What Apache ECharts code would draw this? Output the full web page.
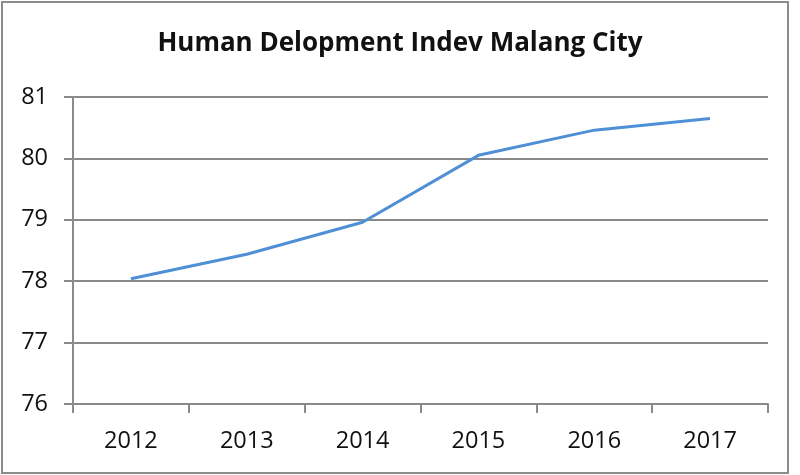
<!DOCTYPE html>
<html><head><meta charset="utf-8">
<script src="https://cdn.jsdelivr.net/npm/echarts@6/dist/echarts.min.js"></script>
<style>html,body{margin:0;padding:0;background:#fff}#c{width:800px;height:475px}</style>
</head><body><div id="c"></div>
<script>
var years = ['2012','2013','2014','2015','2016','2017'];
var hdi = [78.04, 78.44, 78.96, 80.05, 80.46, 80.65];
var yTicks = [76, 77, 78, 79, 80, 81];
var titleText = 'Human Delopment Indev Malang City';

var chart = echarts.init(document.getElementById('c'), null, {renderer:'canvas'});
chart.setOption({
  backgroundColor:'#fff',
  animation:false,
  graphic:[{type:'rect',shape:{x:2,y:2,width:786,height:471},style:{fill:'none',stroke:'#8c8c8c',lineWidth:2}}],
  title:{text:titleText,left:'center',top:26,textStyle:{fontFamily:'Open Sans',fontWeight:'bold',fontSize:26,color:'#111'}},
  grid:{left:73,right:32,top:97,bottom:71},
  xAxis:{type:'category',data:years,boundaryGap:true,
    axisLine:{lineStyle:{color:'#8a8a8a',width:2}},
    axisTick:{show:true,length:9,lineStyle:{color:'#8a8a8a',width:2}},
    axisLabel:{fontFamily:'Open Sans',fontSize:23.5,color:'#111',margin:25}},
  yAxis:{type:'value',min:yTicks[0],max:yTicks[yTicks.length-1],interval:1,
    axisLine:{show:true,lineStyle:{color:'#8a8a8a',width:2}},
    axisTick:{show:true,length:9,lineStyle:{color:'#8a8a8a',width:2}},
    splitLine:{lineStyle:{color:'#8a8a8a',width:2}},
    axisLabel:{fontFamily:'Open Sans',fontSize:23.5,color:'#111',margin:25}},
  series:[{type:'line',data:hdi,symbol:'none',smooth:false,
    lineStyle:{color:'#4f8fd6',width:3}}]
});
</script></body></html>
